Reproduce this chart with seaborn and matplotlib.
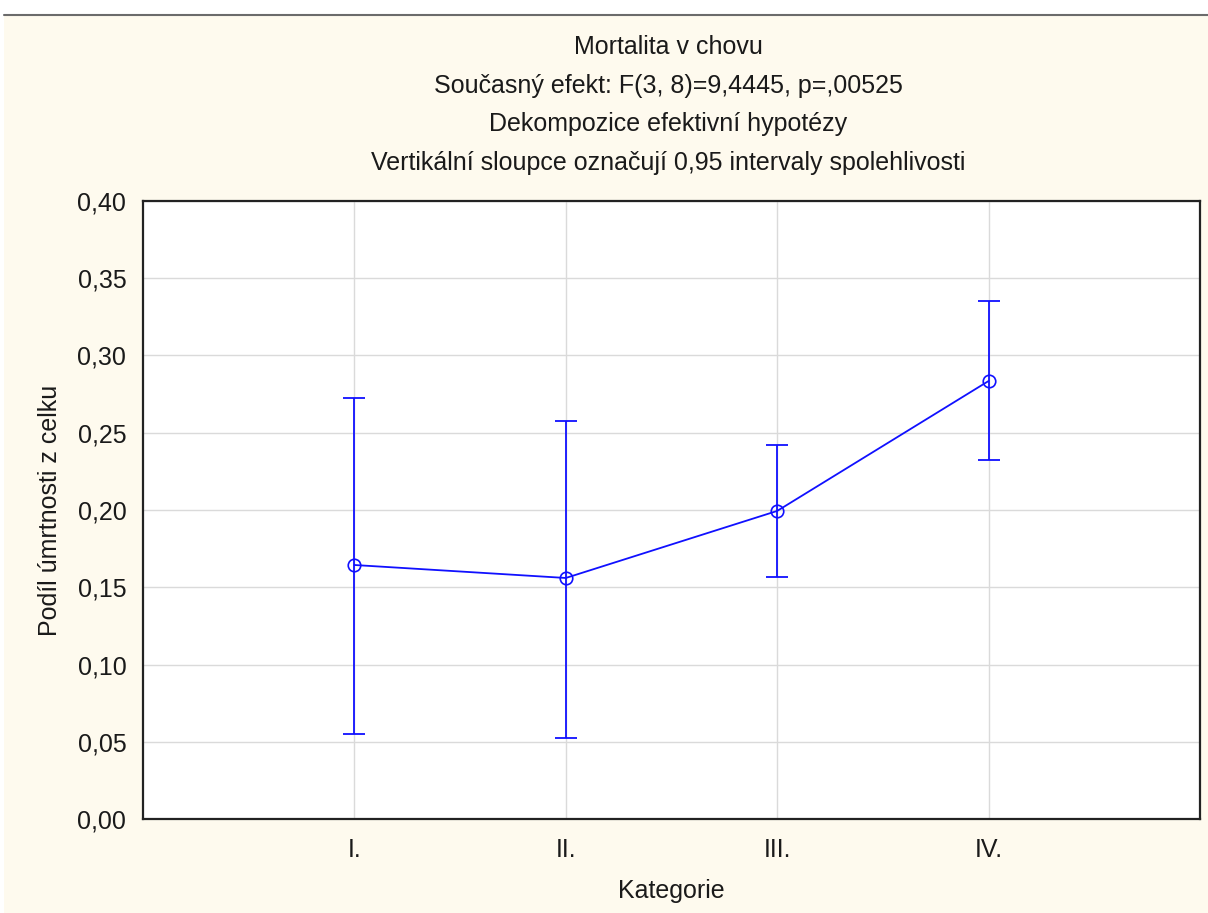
"""
Mortalita v chovu - průměry s 0,95 intervaly spolehlivosti.
"""
import numpy as np
import pandas as pd
import matplotlib
matplotlib.use("Agg")
import matplotlib.pyplot as plt
from matplotlib.ticker import FuncFormatter, MultipleLocator
import seaborn as sns

# --- data ---
kategorie = ["I.", "II.", "III.", "IV."]
prumer = [0.1644, 0.1560, 0.1994, 0.2835]
ci_dolni = [0.0550, 0.0524, 0.1566, 0.2324]
ci_horni = [0.2725, 0.2576, 0.2420, 0.3350]

nadpis = [
    "Mortalita v chovu",
    "Současný efekt: F(3, 8)=9,4445, p=,00525",
    "Dekompozice efektivní hypotézy",
    "Vertikální sloupce označují 0,95 intervaly spolehlivosti",
]

sns.set_theme(style="white")
plt.rcParams["font.family"] = ["Liberation Sans", "DejaVu Sans"]

W, H = 1208, 913
fig = plt.figure(figsize=(W / 100, H / 100), dpi=100, facecolor="white")

# krémové pozadí s tmavou linkou nahoře
bg = fig.add_axes([4 / W, 0, 1 - 4 / W, (H - 16) / H])
bg.set_facecolor("#fefaee")
bg.set_xticks([])
bg.set_yticks([])
for s in bg.spines.values():
    s.set_visible(False)
fig.add_artist(plt.Line2D([4 / W, 1], [(H - 15) / H, (H - 15) / H],
                          color="#6b6b6b", lw=1.5))

ax = fig.add_axes([143 / W, (H - 819) / H, (1200 - 143) / W, (819 - 201) / H])
ax.set_facecolor("white")

df = pd.DataFrame({"kategorie": kategorie, "prumer": prumer,
                   "dolni": ci_dolni, "horni": ci_horni})
df["x"] = np.arange(len(df))

modra = "#1010ff"
sns.lineplot(data=df, x="x", y="prumer", ax=ax, color=modra, lw=1.3,
             marker="o", markersize=9, markerfacecolor="none",
             markeredgecolor=modra, markeredgewidth=1.2, zorder=4)
yerr = np.vstack([df["prumer"] - df["dolni"], df["horni"] - df["prumer"]])
ax.errorbar(df["x"], df["prumer"], yerr=yerr, fmt="none", ecolor=modra,
            elinewidth=1.3, capsize=8, capthick=1.3, zorder=3)

ax.set_xlim(-1, 4)
ax.set_ylim(0, 0.40)
ax.set_xticks(df["x"])
ax.set_xticklabels(kategorie)
ax.yaxis.set_major_locator(MultipleLocator(0.05))
ax.yaxis.set_major_formatter(FuncFormatter(lambda v, _: f"{v:.2f}".replace(".", ",")))

ax.grid(True, color="#dadada", lw=1)
ax.set_axisbelow(True)
for s in ax.spines.values():
    s.set_color("#222222")
    s.set_linewidth(1.6)
ax.tick_params(axis="both", direction="in", length=4, width=1, color="#222222",
               labelsize=18, labelcolor="#1a1a1a")
ax.tick_params(axis="x", pad=14)
ax.tick_params(axis="y", pad=12)

ax.set_xlabel("Kategorie", fontsize=18, labelpad=12, color="#1a1a1a")
ax.set_ylabel("Podíl úmrtnosti z celku", fontsize=18, labelpad=11, color="#1a1a1a")

cx = (143 + 1193) / 2 / W
for i, radek in enumerate(nadpis):
    fig.text(cx, 1 - (47 + i * 38.5) / H, radek, ha="center", va="center",
             fontsize=18, color="#1a1a1a")

fig.savefig("out.png", dpi=100, facecolor=fig.get_facecolor())
